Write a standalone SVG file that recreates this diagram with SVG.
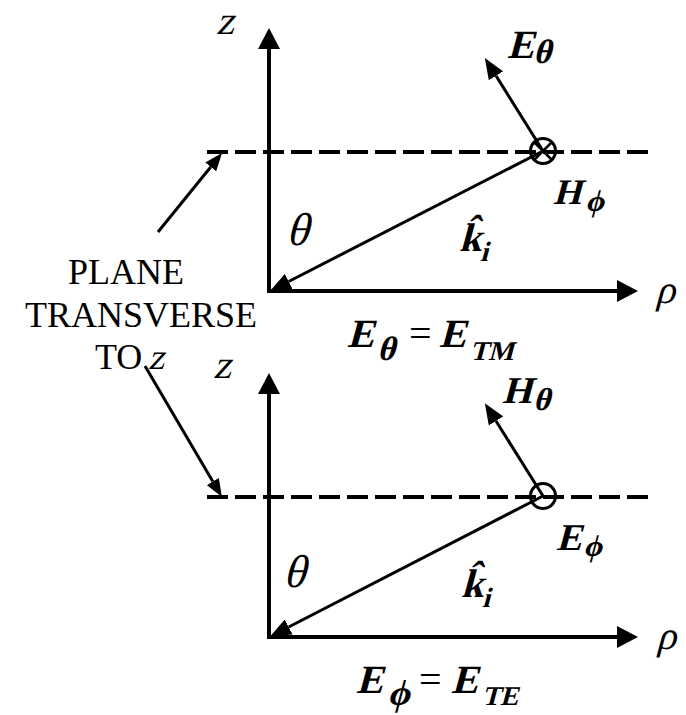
<svg xmlns="http://www.w3.org/2000/svg" width="686" height="715" viewBox="0 0 686 715">
<style>
text{font-family:"Liberation Serif","Times New Roman",serif;fill:#000}
.b{font-weight:bold}
.ax{stroke:#000;stroke-width:4;fill:none}
.vec{stroke:#000;stroke-width:3;fill:none}
.dash{stroke:#000;stroke-width:4;fill:none;stroke-dasharray:21 7}
</style>
<defs>
<marker id="ah" markerUnits="userSpaceOnUse" viewBox="0 -11 21 22" refX="0" refY="0" markerWidth="21" markerHeight="22" orient="auto"><path d="M0,-11 L21,0 L0,11 z" fill="#000"/></marker>
<marker id="vh" markerUnits="userSpaceOnUse" viewBox="0 -8.5 21 17" refX="0" refY="0" markerWidth="21" markerHeight="17" orient="auto"><path d="M0,-8.5 L21,0 L0,8.5 z" fill="#000"/></marker>
<marker id="ph" markerUnits="userSpaceOnUse" viewBox="0 -7 18 14" refX="0" refY="0" markerWidth="18" markerHeight="14" orient="auto"><path d="M0,-7 L18,0 L0,7 z" fill="#000"/></marker>
</defs>

<g id="connectors">
<line class="dash" x1="207" y1="152" x2="652" y2="152"/>
<line class="ax" x1="269" y1="293" x2="269" y2="49" marker-end="url(#ah)"/>
<line class="ax" x1="267" y1="291" x2="617" y2="291" marker-end="url(#ah)"/>
<line class="vec" x1="543" y1="151" x2="288.7" y2="281.5" marker-end="url(#vh)"/>
<line class="vec" x1="543" y1="151" x2="496" y2="75.8" marker-end="url(#vh)"/>
<line class="vec" x1="158" y1="232" x2="210.7" y2="167" marker-end="url(#ph)"/>
<line class="dash" x1="207" y1="497" x2="652" y2="497"/>
<line class="ax" x1="269" y1="639" x2="269" y2="394" marker-end="url(#ah)"/>
<line class="ax" x1="267" y1="637" x2="617" y2="637" marker-end="url(#ah)"/>
<line class="vec" x1="543" y1="496" x2="288.7" y2="627" marker-end="url(#vh)"/>
<line class="vec" x1="543" y1="496" x2="496" y2="421" marker-end="url(#vh)"/>
<line class="vec" x1="145" y1="366" x2="212.8" y2="481.5" marker-end="url(#ph)"/>
</g>

<g id="top-diagram">
<g id="h-phi-top">
<circle cx="543" cy="151" r="12.5" fill="none" stroke="#000" stroke-width="3"/>
<line x1="534" y1="142" x2="552" y2="160" stroke="#000" stroke-width="2.5"/>
<line x1="552" y1="142" x2="534" y2="160" stroke="#000" stroke-width="2.5"/>
</g>
<text transform="translate(216,34) skewX(-15)" font-size="40">z</text>
<text transform="translate(655,303) skewX(-15)" font-size="40">ρ</text>
<text transform="translate(286,245) skewX(-15)" font-size="46">θ</text>
<g id="label-Etheta-top"><text class="b" transform="translate(507,58) skewX(-15)" font-size="40">E</text><text class="b" transform="translate(533,63) skewX(-15)" font-size="34">θ</text></g>
<g id="label-Hphi"><text class="b" transform="translate(553,204) skewX(-15)" font-size="36">H</text><text class="b" transform="translate(585,211) skewX(-15)" font-size="30">ϕ</text></g>
<g id="label-ki-top"><text class="b" transform="translate(459,251) skewX(-15)" font-size="40">k̂</text><text class="b" transform="translate(480,261) skewX(-15)" font-size="28">i</text></g>
<g id="eq-TM">
<text class="b" transform="translate(347,347) skewX(-15)" font-size="40">E</text>
<text class="b" transform="translate(377,360) skewX(-15)" font-size="34">θ</text>
<text x="409" y="347" font-size="40">=</text>
<text class="b" transform="translate(439,347) skewX(-15)" font-size="40">E</text>
<text class="b" transform="translate(470,360) skewX(-15)" font-size="27">TM</text>
</g>
</g>

<g id="plane-label">
<text x="68" y="284" font-size="36">PLANE</text>
<text x="25" y="327" font-size="36">TRANSVERSE</text>
<text x="95" y="369" font-size="36">TO</text>
<text transform="translate(148,369) skewX(-15)" font-size="36">z</text>
</g>

<g id="bottom-diagram">
<g id="e-phi-bottom"><circle cx="543" cy="496" r="12.5" fill="none" stroke="#000" stroke-width="3"/></g>
<text transform="translate(213,378) skewX(-15)" font-size="40">z</text>
<text transform="translate(656,649) skewX(-15)" font-size="40">ρ</text>
<text transform="translate(283,587) skewX(-15)" font-size="46">θ</text>
<g id="label-Htheta"><text class="b" transform="translate(502,403) skewX(-15)" font-size="38">H</text><text class="b" transform="translate(533,410) skewX(-15)" font-size="32">θ</text></g>
<g id="label-Ephi"><text class="b" transform="translate(556,550) skewX(-15)" font-size="38">E</text><text class="b" transform="translate(583,556) skewX(-15)" font-size="30">ϕ</text></g>
<g id="label-ki-bottom"><text class="b" transform="translate(461,597) skewX(-15)" font-size="40">k̂</text><text class="b" transform="translate(482,607) skewX(-15)" font-size="28">i</text></g>
<g id="eq-TE">
<text class="b" transform="translate(356,693) skewX(-15)" font-size="40">E</text>
<text class="b" transform="translate(387,705) skewX(-15)" font-size="36">ϕ</text>
<text x="419" y="693" font-size="40">=</text>
<text class="b" transform="translate(451,693) skewX(-15)" font-size="40">E</text>
<text class="b" transform="translate(482,705) skewX(-15)" font-size="27">TE</text>
</g>
</g>
</svg>
